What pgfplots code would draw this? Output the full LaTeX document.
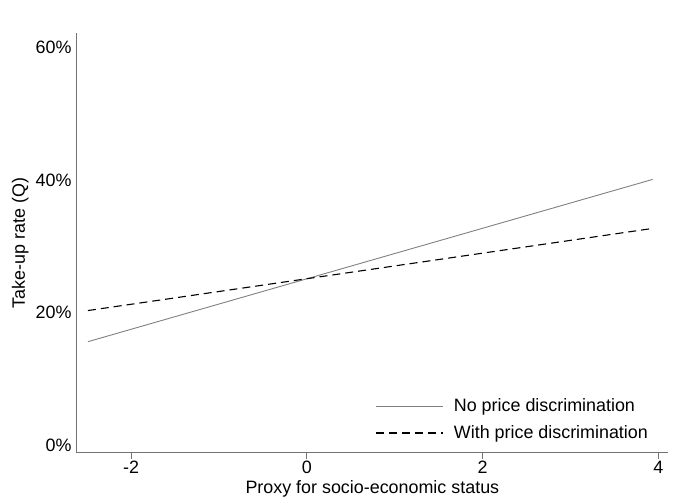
\documentclass[border=0pt]{standalone}
\usepackage{fontspec}
\setmainfont{Liberation Sans}
\usepackage{pgfplots}
\pgfplotsset{compat=1.18}
\definecolor{axgray}{gray}{0.45}
\definecolor{lngray}{gray}{0.5}
\newcommand{\fs}{\fontsize{17.9}{21}\selectfont}
\begin{document}
\fs
\begin{tikzpicture}
\begin{axis}[
  scale only axis,
  width=591.3pt, height=419.7pt,
  anchor=south west, at={(0,0)},
  xmin=-2.618, xmax=4.11,
  ymin=-0.0116, ymax=0.622,
  axis x line=bottom, axis y line=left,
  axis line style={-, axgray, line width=1.2pt},
  xtick={-2,0,2,4},
  xticklabels={-2,0,2,4},
  ytick={0,0.2,0.4,0.6},
  yticklabels={0\%,20\%,40\%,60\%},
  tick align=outside,
  x tick style={axgray, line width=1pt},
  y tick style={draw=none},
  major tick length=6.5pt,
  tick label style={font=\fs},
  xticklabel style={inner sep=2pt},
  yticklabel style={inner sep=0pt, xshift=1.5pt},
  /pgf/number format/assume math mode=true,
  xlabel={Proxy for socio-economic status},
  ylabel={Take-up rate (Q)},
  label style={font=\fs},
  x label style={at={(axis description cs:0.5,-0.087)}, anchor=center},
  y label style={at={(axis description cs:-0.0955,0.5)}, anchor=center},
  legend style={draw=none, fill=none, at={(axis description cs:0.9697,0.023)}, anchor=south east,
    font=\fs, row sep=7pt, inner sep=0pt,
    cells={anchor=west}},
  legend image code/.code={\draw[#1] (0pt,0pt) -- (67pt,0pt); \path (75pt,0pt);},
  clip=false,
]
\addplot[lngray, line width=0.9pt] coordinates {(-2.49,0.156) (3.936,0.401)};
\addlegendentry{No price discrimination}
\addplot[black, line width=1.1pt, dash pattern=on 8pt off 5pt] coordinates {(-2.49,0.203) (3.936,0.327)};
\addlegendentry{With price discrimination}
\end{axis}
\pgfresetboundingbox
\path (-76.7pt,-47.3pt) rectangle (597.3pt,452.7pt);
\end{tikzpicture}
\end{document}
